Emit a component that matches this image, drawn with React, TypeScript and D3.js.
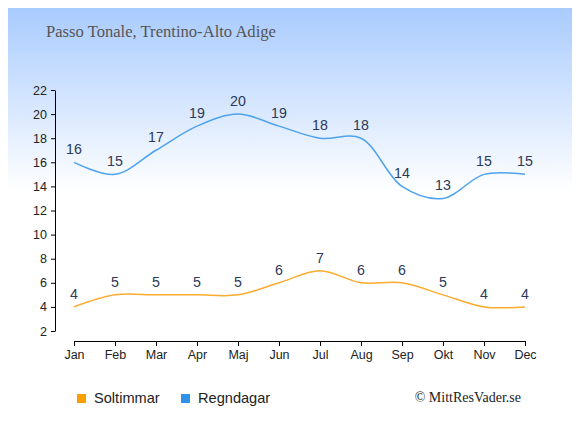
import { useEffect, useRef } from "react"
import * as d3 from "d3"

const months = ["Jan", "Feb", "Mar", "Apr", "Maj", "Jun", "Jul", "Aug", "Sep", "Okt", "Nov", "Dec"]
const soltimmar = [4, 5, 5, 5, 5, 6, 7, 6, 6, 5, 4, 4]
const regndagar = [16, 15, 17, 19, 20, 19, 18, 18, 14, 13, 15, 15]
const yTicks = [2, 4, 6, 8, 10, 12, 14, 16, 18, 20, 22]

const W = 580
const H = 435

export default function App() {
  const svgRef = useRef<SVGSVGElement>(null)

  useEffect(() => {
    if (!svgRef.current) return
    const root = d3.select(svgRef.current)
    root.selectAll("*").remove()

    // background gradient
    const defs = root.append("defs")
    const grad = defs
      .append("linearGradient")
      .attr("id", "bg")
      .attr("x1", 0)
      .attr("y1", 0)
      .attr("x2", 0)
      .attr("y2", 1)
    grad.append("stop").attr("offset", "0%").attr("stop-color", "#a5c9fe")
    grad.append("stop").attr("offset", "44%").attr("stop-color", "#ffffff")
    grad.append("stop").attr("offset", "100%").attr("stop-color", "#ffffff")

    root
      .append("rect")
      .attr("x", 0.5)
      .attr("y", 0.5)
      .attr("width", W - 1)
      .attr("height", H - 1)
      .attr("fill", "url(#bg)")
      .attr("stroke", "#aaaaaa")

    root
      .append("text")
      .attr("x", 46)
      .attr("y", 37)
      .attr("font-family", "Georgia, 'Liberation Serif', serif")
      .attr("font-size", 16.6)
      .attr("fill", "#555555")
      .text("Passo Tonale, Trentino-Alto Adige")

    const x = d3.scalePoint<string>().domain(months).range([74, 525])
    const y = d3.scaleLinear().domain([2, 22]).range([331, 90])

    // y axis
    const yAxis = root
      .append("g")
      .attr("transform", "translate(55,0)")
      .call(d3.axisLeft(y).tickValues(yTicks).tickSize(4).tickSizeOuter(0).tickPadding(4))
    yAxis.select(".domain").attr("stroke", "#000")
    yAxis
      .selectAll("text")
      .attr("font-family", "'Liberation Sans', Arial, sans-serif")
      .attr("font-size", 12.5)
      .attr("fill", "#222")

    // x axis
    const xAxis = root
      .append("g")
      .attr("transform", "translate(0,341)")
      .call(d3.axisBottom(x).tickSize(5).tickSizeOuter(0).tickPadding(4))
    xAxis.select(".domain").attr("d", `M${x("Jan")},0.5H${x("Dec")}`)
    xAxis
      .selectAll("text")
      .attr("font-family", "'Liberation Sans', Arial, sans-serif")
      .attr("font-size", 12.5)
      .attr("fill", "#222")

    const line = d3
      .line<number>()
      .x((_, i) => x(months[i]) as number)
      .y((d) => y(d))
      .curve(d3.curveCatmullRom.alpha(0.5))

    const series = [
      { values: regndagar, color: "#4ea3ee" },
      { values: soltimmar, color: "#fbab2e" },
    ]

    series.forEach((s) => {
      root
        .append("path")
        .attr("d", line(s.values))
        .attr("fill", "none")
        .attr("stroke", s.color)
        .attr("stroke-width", 1.5)

      root
        .append("g")
        .selectAll("text")
        .data(s.values)
        .enter()
        .append("text")
        .attr("x", (_, i) => x(months[i]) as number)
        .attr("y", (d) => y(d) - 8)
        .attr("text-anchor", "middle")
        .attr("font-family", "'Liberation Sans', Arial, sans-serif")
        .attr("font-size", 14.2)
        .attr("fill", "#2a3a58")
        .text((d) => d)
    })

    // legend
    const legendItems = [
      { label: "Soltimmar", color: "#fb9e00", x: 77 },
      { label: "Regndagar", color: "#2f92e8", x: 181 },
    ]
    const legend = root.append("g")
    legendItems.forEach((item) => {
      legend
        .append("rect")
        .attr("x", item.x)
        .attr("y", 394)
        .attr("width", 9)
        .attr("height", 9)
        .attr("fill", item.color)
      legend
        .append("text")
        .attr("x", item.x + 17)
        .attr("y", 403)
        .attr("font-family", "'Liberation Sans', Arial, sans-serif")
        .attr("font-size", 14.6)
        .attr("fill", "#222")
        .text(item.label)
    })

    root
      .append("text")
      .attr("x", 521)
      .attr("y", 402)
      .attr("text-anchor", "end")
      .attr("font-family", "Georgia, 'Liberation Serif', serif")
      .attr("font-size", 14)
      .attr("fill", "#222")
      .text("© MittResVader.se")
  }, [])

  return (
    <div style={{ margin: -8 }}>
      <svg ref={svgRef} width={W} height={H} style={{ display: "block" }}></svg>
    </div>
  )
}
